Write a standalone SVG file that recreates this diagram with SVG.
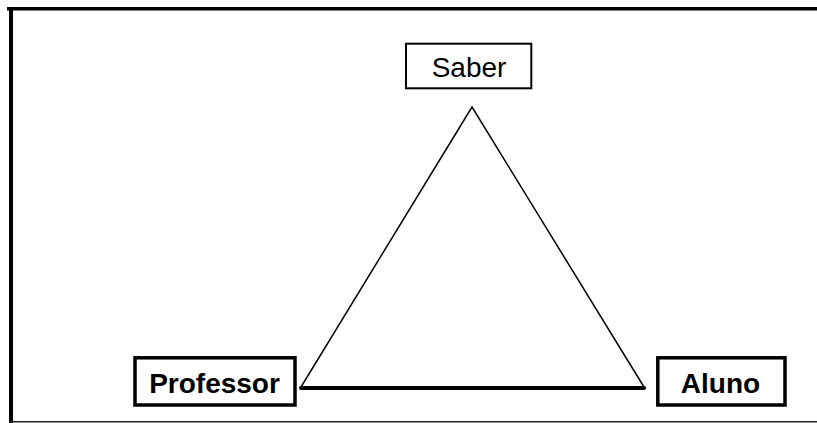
<svg xmlns="http://www.w3.org/2000/svg" width="817" height="423" viewBox="0 0 817 423">
<style>
.box{fill:#fff;stroke:#000}
.t{font-family:"Liberation Sans",Arial,sans-serif;font-size:28px;text-anchor:middle;fill:#000}
.b{font-weight:bold}
.edge{stroke:#000;fill:none;stroke-linecap:round}
</style>
<rect width="817" height="423" fill="#fff"/>
<g id="frame">
<line x1="7" y1="8.8" x2="817" y2="8.8" stroke="#000" stroke-width="3.5"/>
<line x1="11" y1="7" x2="11" y2="423" stroke="#000" stroke-width="4"/>
<line x1="9" y1="421.8" x2="817" y2="421.8" stroke="#222" stroke-width="1.6"/>
</g>
<g id="connectors">
<line class="edge" x1="472" y1="107" x2="301" y2="387" stroke-width="1.5"/>
<line class="edge" x1="472" y1="107" x2="644" y2="387" stroke-width="1.5"/>
<line class="edge" x1="301" y1="388" x2="644" y2="388" stroke-width="4" stroke-linecap="butt"/>
</g>
<g id="saber">
<rect class="box" x="406" y="43.7" width="125.3" height="44.6" stroke-width="2"/>
<text class="t" x="469" y="76.7">Saber</text>
</g>
<g id="professor">
<rect class="box" x="135" y="357.8" width="160" height="47.2" stroke-width="3.5"/>
<text class="t b" x="214.5" y="392.7">Professor</text>
</g>
<g id="aluno">
<rect class="box" x="657.8" y="357.8" width="127.2" height="47.2" stroke-width="3.5"/>
<text class="t b" x="720.5" y="392.7">Aluno</text>
</g>
</svg>
